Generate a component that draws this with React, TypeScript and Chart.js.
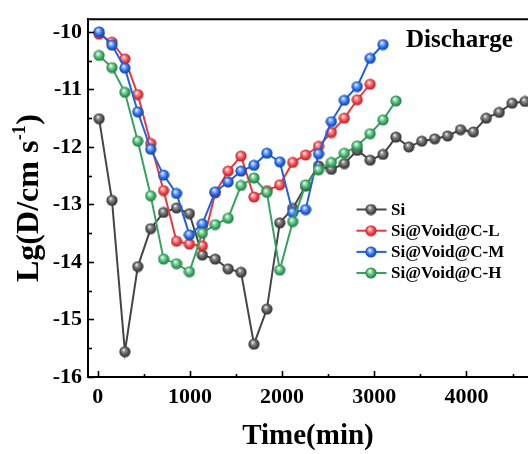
import React, { useEffect, useRef } from "react";
import { Chart, registerables } from "chart.js";

Chart.register(...registerables);

// Time (min) of each measurement
const TIME = [15, 155, 295, 435, 575, 715, 855, 995, 1135, 1275, 1415, 1555, 1695, 1835, 1975, 2115, 2255, 2395, 2535, 2675, 2815, 2955, 3095, 3235, 3375, 3515, 3655, 3795, 3935, 4075, 4215, 4355, 4495, 4635];

// Lg(D) values
const SI = [-11.51, -12.93, -15.56, -14.08, -13.42, -13.14, -13.06, -13.16, -13.88, -13.95, -14.12, -14.18, -15.43, -14.82, -13.32, -13.07, -12.68, -12.33, -12.39, -12.29, -12.06, -12.23, -12.13, -11.83, -12.0, -11.9, -11.86, -11.81, -11.7, -11.74, -11.5, -11.4, -11.24, -11.21];
const SI_L = [-10.04, -10.18, -10.47, -11.09, -11.94, -12.76, -13.64, -13.69, -13.72, -12.8, -12.42, -12.16, -12.87, -12.76, -12.66, -12.27, -12.14, -11.99, -11.75, -11.5, -11.18, -10.91];
const SI_M = [-10.0, -10.23, -10.63, -11.39, -12.04, -12.49, -12.81, -13.53, -13.34, -12.78, -12.61, -12.42, -12.32, -12.11, -12.26, -13.14, -13.09, -12.12, -11.56, -11.19, -10.95, -10.46, -10.22];
const SI_H = [-10.41, -10.62, -11.05, -11.9, -12.85, -13.95, -14.03, -14.17, -13.5, -13.35, -13.24, -12.67, -12.54, -12.79, -14.14, -13.3, -12.66, -12.4, -12.27, -12.11, -11.98, -11.77, -11.53, -11.2];

const SERIES_NAMES = ["Si", "Si@Void@C-L", "Si@Void@C-M", "Si@Void@C-H"];
const X_TICKS = [0, 1000, 2000, 3000, 4000];
const X_MINOR = [500, 1500, 2500, 3500, 4500];
const Y_TICKS = [-16, -15, -14, -13, -12, -11, -10];
const Y_MINOR = [-15.5, -14.5, -13.5, -12.5, -11.5, -10.5];
const PANEL_LABEL = "Discharge";

const SERIF = "'Liberation Serif', 'Times New Roman', serif";

const STYLES = [
  { line: "#454545", base: "#505050", light: "#9a9a9a", dark: "#2a2a2a" },
  { line: "#e8393f", base: "#e63a3f", light: "#ff9a9a", dark: "#b01e22" },
  { line: "#1f62de", base: "#1f62de", light: "#8fb5ff", dark: "#0e3a9a" },
  { line: "#35a35e", base: "#36a65f", light: "#9fe0b5", dark: "#1d7040" },
];

function makeBall(s: any) {
  const c = document.createElement("canvas");
  c.width = 12;
  c.height = 12;
  const g = c.getContext("2d")!;
  const grd = g.createRadialGradient(4.6, 4.0, 0.3, 6, 6, 6);
  grd.addColorStop(0, "#ffffff");
  grd.addColorStop(0.22, s.light);
  grd.addColorStop(0.65, s.base);
  grd.addColorStop(1, s.dark);
  g.fillStyle = grd;
  g.beginPath();
  g.arc(6, 6, 5.6, 0, Math.PI * 2);
  g.fill();
  return c;
}

export default function App() {
  const ref = useRef<HTMLCanvasElement | null>(null);

  useEffect(() => {
    const canvas = ref.current;
    if (!canvas) return;
    const balls = STYLES.map(makeBall);
    const seriesVals = [SI, SI_L, SI_M, SI_H];

    const datasets = seriesVals.map((vals, k) => ({
      label: SERIES_NAMES[k],
      data: vals.map((v, i) => ({ x: TIME[i], y: v })),
      borderColor: STYLES[k].line,
      borderWidth: 2,
      pointStyle: balls[k] as any,
      pointRadius: 6,
      pointHoverRadius: 6,
      tension: 0,
      fill: false,
      order: 4 - k,
    }));

    const decor = {
      id: "decor",
      afterDraw(chart: any) {
        const ctx = chart.ctx;
        const a = chart.chartArea;
        const xs = chart.scales.x;
        const ys = chart.scales.y;
        ctx.save();
        ctx.strokeStyle = "#000";
        ctx.lineWidth = 2;
        // top frame line
        ctx.beginPath();
        ctx.moveTo(a.left - 1, a.top);
        ctx.lineTo(a.right, a.top);
        ctx.stroke();
        // inward ticks
        ctx.lineWidth = 1.6;
        const tickY = (v: number, len: number) => {
          const p = Math.round(ys.getPixelForValue(v)) + 0.5;
          ctx.beginPath();
          ctx.moveTo(a.left, p);
          ctx.lineTo(a.left + len, p);
          ctx.stroke();
        };
        const tickX = (v: number, len: number) => {
          const p = Math.round(xs.getPixelForValue(v)) + 0.5;
          ctx.beginPath();
          ctx.moveTo(p, a.bottom);
          ctx.lineTo(p, a.bottom - len);
          ctx.stroke();
        };
        Y_TICKS.forEach((v) => tickY(v, 6));
        Y_MINOR.forEach((v) => tickY(v, 4));
        X_TICKS.forEach((v) => tickX(v, 6));
        X_MINOR.forEach((v) => tickX(v, 3));

        // y-axis title with superscript
        ctx.fillStyle = "#000";
        ctx.translate(38, 198);
        ctx.rotate(-Math.PI / 2);
        const big = "bold 32px " + SERIF;
        const small = "bold 18px " + SERIF;
        const p1 = "Lg(D/cm s";
        const p2 = "-1";
        const p3 = ")";
        ctx.font = big;
        const w1 = ctx.measureText(p1).width;
        const w3 = ctx.measureText(p3).width;
        ctx.font = small;
        const w2 = ctx.measureText(p2).width;
        const total = w1 + w2 + w3 + 1;
        let x0 = -total / 2;
        ctx.textBaseline = "alphabetic";
        ctx.textAlign = "left";
        ctx.font = big;
        ctx.fillText(p1, x0, 0);
        ctx.font = small;
        ctx.fillText(p2, x0 + w1 + 0.5, -13);
        ctx.font = big;
        ctx.fillText(p3, x0 + w1 + w2 + 1, 0);
        ctx.setTransform(1, 0, 0, 1, 0, 0);

        // panel label
        ctx.font = "bold 25px " + SERIF;
        ctx.textAlign = "left";
        ctx.textBaseline = "alphabetic";
        ctx.fillText(PANEL_LABEL, 406, 47);

        // legend
        const rows = [209.5, 230.7, 251.9, 273];
        ctx.font = "bold 17px " + SERIF;
        ctx.textBaseline = "middle";
        SERIES_NAMES.forEach((name, k) => {
          const y = rows[k];
          ctx.strokeStyle = STYLES[k].line;
          ctx.lineWidth = 2;
          ctx.beginPath();
          ctx.moveTo(356.5, y);
          ctx.lineTo(386.5, y);
          ctx.stroke();
          ctx.drawImage(balls[k], 371 - 6, y - 6);
          ctx.fillStyle = "#000";
          ctx.fillText(name, 391, y + 1);
        });
        ctx.restore();
      },
    };

    const chart = new Chart(canvas, {
      type: "line",
      data: { datasets: datasets as any },
      options: {
        animation: false,
        responsive: false,
        events: [],
        layout: { autoPadding: false, padding: { top: 15, right: 0, left: 0, bottom: 0 } },
        plugins: {
          legend: { display: false },
          tooltip: { enabled: false },
          title: { display: false },
        },
        scales: {
          x: {
            type: "linear",
            min: -105,
            max: 4667,
            afterBuildTicks: (s: any) => {
              s.ticks = X_TICKS.map((v) => ({ value: v }));
            },
            afterFit: (s: any) => {
              s.height = 77;
              s.paddingRight = 0;
              s.paddingLeft = 0;
            },
            ticks: {
              autoSkip: false,
              maxRotation: 0,
              padding: 7,
              color: "#000",
              font: { family: SERIF, size: 22, weight: "bold" },
              callback: (v: any) => String(v),
            },
            grid: { display: false, drawTicks: false },
            border: { display: true, color: "#000", width: 2 },
            title: {
              display: true,
              text: "Time(min)",
              color: "#000",
              padding: { top: 0, bottom: 0 },
              font: { family: SERIF, size: 29, weight: "bold", lineHeight: 1.2 },
            },
          },
          y: {
            type: "linear",
            min: -16,
            max: -9.78,
            afterBuildTicks: (s: any) => {
              s.ticks = Y_TICKS.map((v) => ({ value: v }));
            },
            afterFit: (s: any) => {
              s.width = 88;
            },
            ticks: {
              padding: 6,
              color: "#000",
              font: { family: SERIF, size: 22, weight: "bold" },
              callback: (v: any) => String(v),
            },
            grid: { display: false, drawTicks: false },
            border: { display: true, color: "#000", width: 2 },
          },
        },
      },
      plugins: [decor],
    });
    return () => chart.destroy();
  }, []);

  return (
    <div style={{ position: "absolute", left: 0, top: 0, width: 528, height: 454, background: "#fff" }}>
      <canvas ref={ref} width={528} height={454} style={{ display: "block" }} />
    </div>
  );
}
